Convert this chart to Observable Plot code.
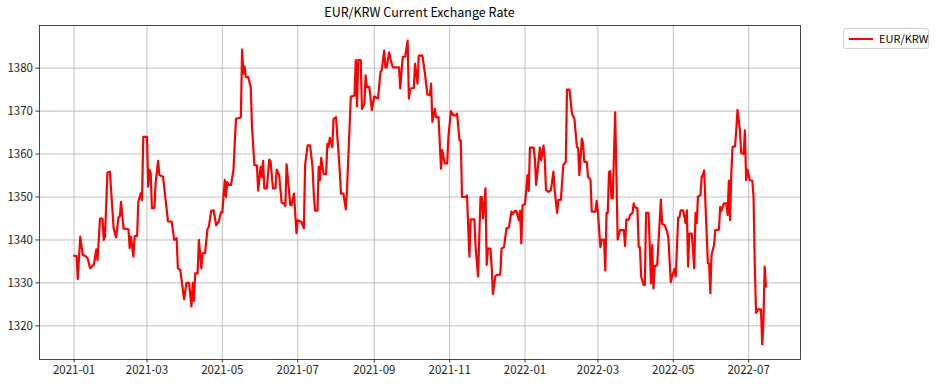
<!DOCTYPE html>
<html>
<head>
<meta charset="utf-8">
<script src="https://cdn.jsdelivr.net/npm/d3@7"></script>
<script src="https://cdn.jsdelivr.net/npm/@observablehq/plot@0.6"></script>
<style>
  html, body { margin: 0; padding: 0; background: #fff; }
  #wrap { position: relative; width: 938px; height: 386px; font-family: "Noto Sans CJK KR", "Noto Sans", sans-serif; }
  #title { position: absolute; left: 39px; width: 761px; top: 2px; text-align: center; font-size: 12.5px; color: #000; }
  #legend { position: absolute; left: 843px; top: 28px; width: 86px; height: 21px; border: 1px solid #d0d0d0; border-radius: 3px; box-sizing: border-box; background: #fff; }
  #legend .sw { position: absolute; left: 5px; top: 9px; width: 24px; height: 2px; background: #ff0000; }
  #legend .lb { position: absolute; left: 35px; top: 2px; font-size: 11px; line-height: 15px; color: #000; }
</style>
</head>
<body>
<div id="wrap">
  <div id="chart"></div>
  <div id="title">EUR/KRW Current Exchange Rate</div>
  <div id="legend"><div class="sw"></div><div class="lb">EUR/KRW</div></div>
</div>
<script>
const START = "2021-01-01";
const seriesName = "EUR/KRW";
// days since START
const dayOffsets = [
  0,2,3,5,7,9,11,13,15,16,18,19,21,23,24,25,27,29,32,34,36,37,38,40,44,45,46,48,49,51,
  52,54,55,56,59,60,61,62,63,65,66,68,69,72,76,79,81,83,84,86,89,91,93,95,96,97,98,100,101,103,
  104,106,108,109,111,113,115,117,119,120,122,123,124,125,127,129,131,135,136,137,138,139,141,143,144,146,148,149,151,152,
  153,154,156,158,159,161,163,164,166,168,170,171,172,175,176,178,180,181,184,186,187,189,191,193,194,195,197,198,199,200,
  202,204,205,206,207,209,210,212,215,216,218,220,221,224,227,228,229,230,232,233,235,236,237,239,241,243,246,248,249,251,
  252,253,255,256,258,263,264,266,268,270,271,272,275,276,278,279,282,284,286,288,289,290,292,293,295,297,298,300,302,303,
  305,307,309,310,312,313,314,317,318,320,321,324,325,327,329,330,331,333,334,335,337,338,339,341,343,345,346,348,350,352,
  354,355,357,358,360,361,362,363,365,367,368,369,372,373,374,376,377,378,380,381,382,384,386,388,389,391,392,394,396,398,
  399,401,403,405,407,408,409,411,412,413,415,416,418,419,422,423,424,426,427,429,430,431,432,433,434,435,436,438,440,442,
  445,446,447,449,450,452,453,454,456,457,458,459,461,462,463,465,466,467,468,469,470,472,475,476,478,480,481,483,484,486,
  487,489,490,491,493,495,496,497,498,500,502,503,504,505,507,508,509,510,513,514,515,516,518,519,522,523,524,526,528,529,
  530,531,532,533,535,536,537,539,540,542,543,544,545,547,549,550,551,552,554,556,557,558,559,560
];
const rates = [
  1336.3,1336.3,1330.9,1340.8,1336.5,1336.3,1335.7,1333.4,1334.0,1334.2,1337.8,1335.3,1345.0,1345.0,1340.0,1340.8,1355.7,1355.9,1342.7,1340.6,1345.3,1345.4,1348.9,1342.7,1342.5,1338.1,1340.8,1336.1,1340.9,1340.9,
  1348.9,1350.9,1349.3,1364.0,1364.0,1352.4,1356.4,1355.5,1347.4,1347.4,1353.3,1358.4,1355.1,1354.7,1344.3,1344.3,1340.0,1340.4,1333.4,1333.0,1326.2,1330.0,1330.0,1324.5,1330.0,1325.8,1332.2,1332.2,1340.0,1333.4,
  1336.9,1336.9,1342.6,1343.0,1346.8,1346.9,1343.4,1344.2,1346.5,1346.5,1354.0,1350.0,1353.5,1352.8,1352.8,1356.3,1368.2,1368.5,1384.3,1378.7,1380.4,1377.9,1377.9,1375.6,1366.3,1357.4,1357.4,1351.5,1357.0,1354.7,
  1358.4,1352.0,1352.0,1358.7,1358.4,1352.0,1352.0,1356.4,1355.1,1348.7,1348.5,1347.9,1357.6,1348.1,1348.1,1350.8,1341.6,1344.6,1344.2,1342.7,1357.4,1362.0,1362.0,1357.0,1350.8,1346.8,1346.8,1357.0,1353.9,1359.1,
  1355.4,1355.3,1362.4,1361.6,1363.8,1361.6,1368.2,1368.6,1356.2,1350.8,1350.8,1347.1,1352.3,1373.4,1373.6,1381.9,1371.1,1381.9,1381.9,1370.5,1371.7,1378.3,1375.6,1375.6,1370.2,1373.4,1372.9,1379.1,1379.5,1384.1,
  1380.2,1380.2,1383.7,1382.2,1380.2,1380.2,1375.3,1382.6,1382.7,1386.4,1372.9,1375.2,1375.4,1381.0,1376.4,1382.9,1382.9,1378.7,1373.9,1373.7,1376.4,1367.5,1370.5,1368.6,1368.6,1356.6,1360.9,1357.8,1357.8,1364.0,
  1370.0,1369.0,1369.0,1369.4,1363.2,1363.2,1350.0,1350.0,1350.4,1336.1,1344.8,1344.8,1338.4,1331.5,1350.0,1350.0,1345.0,1352.0,1334.2,1338.0,1338.0,1333.8,1327.4,1331.6,1331.9,1331.9,1338.0,1338.3,1342.7,1342.9,
  1346.6,1346.0,1346.8,1346.8,1344.6,1346.8,1339.2,1348.1,1348.3,1355.1,1351.4,1361.5,1361.5,1358.9,1352.8,1358.6,1361.5,1358.6,1362.0,1358.6,1351.6,1351.2,1351.6,1355.9,1351.6,1346.3,1349.3,1349.3,1357.4,1358.2,
  1375.0,1375.0,1369.4,1368.2,1361.7,1361.3,1355.1,1363.6,1362.4,1358.2,1358.2,1354.7,1354.1,1346.6,1346.6,1349.1,1346.6,1338.3,1340.1,1340.0,1332.9,1346.3,1346.3,1355.8,1356.0,1349.7,1349.7,1369.7,1340.1,1342.3,
  1342.3,1338.6,1344.8,1344.7,1345.8,1346.3,1348.5,1347.6,1347.4,1338.4,1338.3,1331.5,1329.5,1329.5,1346.3,1346.3,1338.4,1329.9,1338.8,1328.7,1333.9,1334.1,1349.4,1343.7,1343.5,1341.9,1340.7,1330.2,1331.5,1333.2,
  1331.5,1345.2,1345.3,1346.9,1346.9,1343.9,1346.9,1333.8,1341.5,1341.5,1333.4,1346.3,1343.9,1350.1,1350.4,1354.7,1355.1,1356.2,1334.6,1334.5,1327.6,1336.5,1338.8,1342.3,1342.4,1347.7,1346.8,1348.5,1348.5,1345.8,
  1353.8,1344.6,1355.5,1361.7,1361.8,1365.5,1370.3,1365.5,1360.3,1360.0,1365.5,1353.9,1356.4,1353.9,1353.8,1350.1,1333.8,1323.0,1323.9,1323.8,1315.7,1321.1,1333.8,1329.1
];
const yTicks = [1320, 1330, 1340, 1350, 1360, 1370, 1380];

const start = new Date(START + "T00:00:00Z");
const data = dayOffsets.map((d, i) => ({ date: d3.utcDay.offset(start, d), rate: rates[i] }));

const xExt = d3.extent(data, d => d.date);
const span = xExt[1] - xExt[0];
const xDomain = [new Date(+xExt[0] - span * 0.05), new Date(+xExt[1] + span * 0.05)];
const yExt = d3.extent(rates);
const ySpan = yExt[1] - yExt[0];
const yDomain = [yExt[0] - ySpan * 0.05, yExt[1] + ySpan * 0.05];
const xTicks = d3.utcMonth.every(2).range(xDomain[0], xDomain[1]);

const chart = Plot.plot({
  width: 938,
  height: 386,
  marginLeft: 39,
  marginRight: 138,
  marginTop: 25,
  marginBottom: 27,
  style: { fontFamily: "'Noto Sans CJK KR', 'Noto Sans', sans-serif", fontSize: "11px", color: "#000", background: "#fff" },
  x: { type: "utc", domain: xDomain },
  y: { domain: yDomain },
  marks: [
    Plot.gridX(xTicks, { stroke: "#b0b0b0", strokeOpacity: 1, strokeWidth: 0.8 }),
    Plot.gridY(yTicks, { stroke: "#b0b0b0", strokeOpacity: 1, strokeWidth: 0.8 }),
    Plot.line(data, { x: "date", y: "rate", stroke: "#ff0000", strokeWidth: 2.2, strokeLinejoin: "round" }),
    Plot.frame({ stroke: "#333", strokeWidth: 0.9 }),
    Plot.axisX(xTicks, { tickFormat: d3.utcFormat("%Y-%m"), tickSize: 3.5, tickPadding: 3, stroke: "#333", fill: "#222", fontSize: 11.5, label: null }),
    Plot.axisY(yTicks, { tickFormat: d => String(d), tickSize: 3.5, tickPadding: 3, stroke: "#333", fill: "#222", fontSize: 11.5, label: null })
  ]
});
document.getElementById("chart").appendChild(chart);
</script>
</body>
</html>
